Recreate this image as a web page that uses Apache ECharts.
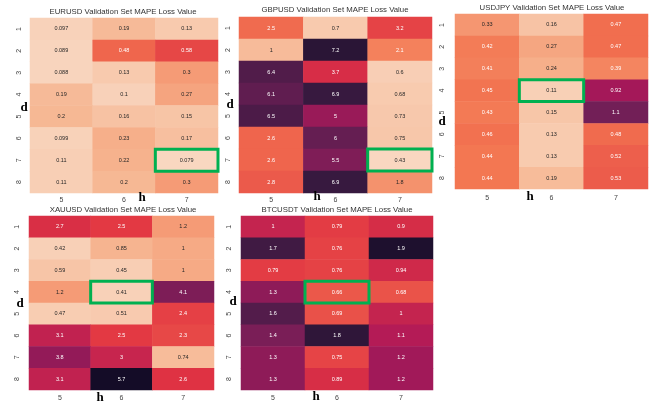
<!DOCTYPE html>
<html>
<head>
<meta charset="utf-8">
<script src="https://cdn.jsdelivr.net/npm/echarts@6/dist/echarts.min.js"></script>
<style>html,body{margin:0;padding:0;background:#fff}#c{width:650px;height:402px}</style>
</head>
<body>
<div id="c"></div>
<script>
// ---- data ----
const hCats = ['5', '6', '7'];
const dCats = ['1', '2', '3', '4', '5', '6', '7', '8'];
const titles = [
  'EURUSD Validation Set MAPE Loss Value',
  'GBPUSD Validation Set MAPE Loss Value',
  'USDJPY Validation Set MAPE Loss Value',
  'XAUUSD Validation Set MAPE Loss Value',
  'BTCUSDT Validation Set MAPE Loss Value'
];
const eurusd = [[0.097,0.19,0.13],[0.089,0.48,0.58],[0.088,0.13,0.3],[0.19,0.1,0.27],[0.2,0.16,0.15],[0.099,0.23,0.17],[0.11,0.22,0.079],[0.11,0.2,0.3]];
const gbpusd = [[2.5,0.7,3.2],[1,7.2,2.1],[6.4,3.7,0.6],[6.1,6.9,0.68],[6.5,5,0.73],[2.6,6,0.75],[2.6,5.5,0.43],[2.8,6.9,1.8]];
const usdjpy = [[0.33,0.16,0.47],[0.42,0.27,0.47],[0.41,0.24,0.39],[0.45,0.11,0.92],[0.43,0.15,1.1],[0.46,0.13,0.48],[0.44,0.13,0.52],[0.44,0.19,0.53]];
const xauusd = [[2.7,2.5,1.2],[0.42,0.85,1],[0.59,0.45,1],[1.2,0.41,4.1],[0.47,0.51,2.4],[3.1,2.5,2.3],[3.8,3,0.74],[3.1,5.7,2.6]];
const btcusdt = [[1,0.79,0.9],[1.7,0.76,1.9],[0.79,0.76,0.94],[1.3,0.66,0.68],[1.6,0.69,1],[1.4,1.8,1.1],[1.3,0.75,1.2],[1.3,0.89,1.2]];
const tables = [eurusd, gbpusd, usdjpy, xauusd, btcusdt];
// colour scale range per panel
const scaleMin = [0, 0, 0, 0, -0.1];
const scaleMax = [1.5, 8.1, 1.55, 6, 2.07];

// ---- style / layout ----
const rocketR = ['#faebdd','#f6b48f','#f37651','#e13342','#ad1759','#701f57','#35193e','#03051a'];
const grids = [
  {left: 30, top: 18, width: 188, height: 175},
  {left: 239, top: 17, width: 193, height: 176},
  {left: 455, top: 14, width: 193, height: 175},
  {left: 29, top: 216, width: 185, height: 175.5},
  {left: 241, top: 216, width: 192, height: 176}
];
const titlePos = [[123, 8], [335, 6], [552, 3.5], [123, 206], [337, 206]];
const xMargin = [4, 4, 6, 5, 5];
const yMargin = [7, 7, 9, 8, 8];
const hPos = [[142, 198], [317, 197], [530, 197], [100, 398], [316, 397]];
const dPos = [[24, 108], [230, 105], [442, 122], [20, 304], [233, 302]];

function hex2rgb(h) { return [1,3,5].map(i => parseInt(h.substr(i, 2), 16)); }
function colorAt(t) {
  t = Math.max(0, Math.min(1, t));
  const n = rocketR.length - 1;
  const k = Math.min(n - 1, Math.floor(t * n));
  const f = t * n - k;
  const a = hex2rgb(rocketR[k]), b = hex2rgb(rocketR[k + 1]);
  return a.map((v, i) => v + (b[i] - v) * f);
}
function lum(rgb) {
  const l = rgb.map(v => { v /= 255; return v <= 0.03928 ? v / 12.92 : Math.pow((v + 0.055) / 1.055, 2.4); });
  return 0.2126 * l[0] + 0.7152 * l[1] + 0.0722 * l[2];
}

const series = [], xAxes = [], yAxes = [], visualMaps = [], titleOpts = [], graphics = [];
tables.forEach((tb, i) => {
  const data = [];
  let best = null;
  tb.forEach((row, r) => row.forEach((v, c) => {
    const t = (v - scaleMin[i]) / (scaleMax[i] - scaleMin[i]);
    const txt = lum(colorAt(t)) > 0.408 ? '#262626' : '#ffffff';
    data.push({value: [c, r, v], label: {color: txt}});
    if (best === null || v < best[2]) best = [c, r, v];
  }));
  series.push({
    type: 'heatmap', xAxisIndex: i, yAxisIndex: i, data: data,
    label: {show: true, fontSize: 5.5, fontFamily: 'Liberation Sans', formatter: p => String(p.value[2])},
    emphasis: {disabled: true}
  });
  series.push({
    type: 'custom', xAxisIndex: i, yAxisIndex: i, data: [best], z: 5, silent: true,
    renderItem: (params, api) => {
      const p = api.coord([api.value(0), api.value(1)]);
      const s = api.size([1, 1]);
      return {type: 'rect', shape: {x: p[0] - s[0] / 2, y: p[1] - s[1] / 2, width: s[0], height: s[1]},
        style: {fill: 'none', stroke: '#00b050', lineWidth: 3}};
    }
  });
  visualMaps.push({show: false, seriesIndex: i * 2, dimension: 2, min: scaleMin[i], max: scaleMax[i], inRange: {color: rocketR}});
  xAxes.push({type: 'category', gridIndex: i, data: hCats, axisLine: {show: false}, axisTick: {show: false}, splitLine: {show: false},
    axisLabel: {fontSize: 7, color: '#444', margin: xMargin[i], fontFamily: 'Liberation Sans'}});
  yAxes.push({type: 'category', gridIndex: i, data: dCats, inverse: true, axisLine: {show: false}, axisTick: {show: false}, splitLine: {show: false},
    axisLabel: {fontSize: 7, color: '#444', rotate: 90, margin: yMargin[i], fontFamily: 'Liberation Sans'}});
  titleOpts.push({text: titles[i], left: titlePos[i][0], top: titlePos[i][1], textAlign: 'center', padding: 0,
    textStyle: {fontSize: 7.8, fontWeight: 'normal', color: '#333', fontFamily: 'Liberation Sans'}});
  graphics.push({type: 'text', x: hPos[i][0], y: hPos[i][1], z: 10,
    style: {text: 'h', font: 'bold 13px "Liberation Serif"', fill: '#000', textAlign: 'center', textVerticalAlign: 'middle'}});
  graphics.push({type: 'text', x: dPos[i][0], y: dPos[i][1], z: 10,
    style: {text: 'd', font: 'bold 13px "Liberation Serif"', fill: '#000', textAlign: 'center', textVerticalAlign: 'middle'}});
});

const chart = echarts.init(document.getElementById('c'), null, {renderer: 'canvas'});
chart.setOption({
  backgroundColor: '#ffffff',
  animation: false,
  title: titleOpts,
  grid: grids,
  xAxis: xAxes,
  yAxis: yAxes,
  visualMap: visualMaps,
  series: series,
  graphic: graphics
});
</script>
</body>
</html>
